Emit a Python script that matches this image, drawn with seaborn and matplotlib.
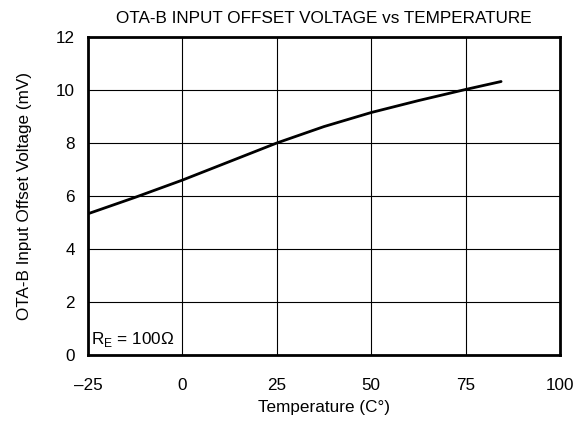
import numpy as np
import pandas as pd
import seaborn as sns
import matplotlib.pyplot as plt

# Data
temperature = [-25, -12.5, 0, 12.5, 25, 37.5, 50, 62.5, 75, 84.4]
offset_mv = [5.33, 5.95, 6.6, 7.3, 8.0, 8.62, 9.15, 9.6, 10.02, 10.32]

df = pd.DataFrame({"temp": temperature, "vos": offset_mv})

sns.set_style("white")
plt.rcParams['font.family'] = ['Liberation Sans', 'DejaVu Sans']
plt.rcParams['text.color'] = 'black'
plt.rcParams['axes.labelcolor'] = 'black'
plt.rcParams['xtick.color'] = 'black'
plt.rcParams['ytick.color'] = 'black'
fs = 12.3

fig = plt.figure(figsize=(5.79, 4.23), dpi=100)
ax = fig.add_axes([88 / 579, 1 - 355 / 423, 472 / 579, 318 / 423])

sns.lineplot(data=df, x="temp", y="vos", ax=ax, color="black", linewidth=2)

ax.set_xlim(-25, 100)
ax.set_ylim(0, 12)
ax.set_xticks([-25, 0, 25, 50, 75, 100])
ax.set_xticklabels(["\u201325", "0", "25", "50", "75", "100"])
ax.set_yticks(range(0, 13, 2))
ax.grid(True, color="black", linewidth=0.8)
ax.tick_params(axis="x", labelsize=fs, length=0, pad=16.5)
ax.tick_params(axis="y", labelsize=fs, length=0, pad=9.5)
for s in ax.spines.values():
    s.set_linewidth(2)
    s.set_color("black")

ax.set_xlabel("Temperature (C\u00b0)", fontsize=fs, labelpad=5)
ax.set_ylabel("OTA-B Input Offset Voltage (mV)", fontsize=fs, labelpad=17)
ax.set_title("OTA-B INPUT OFFSET VOLTAGE vs TEMPERATURE", fontsize=fs, pad=10)

ax.text(-24.2, 0.4, "R$_\\mathregular{E}$ = 100\u03a9", fontsize=fs, va="baseline")

fig.savefig("out.png", dpi=100)
